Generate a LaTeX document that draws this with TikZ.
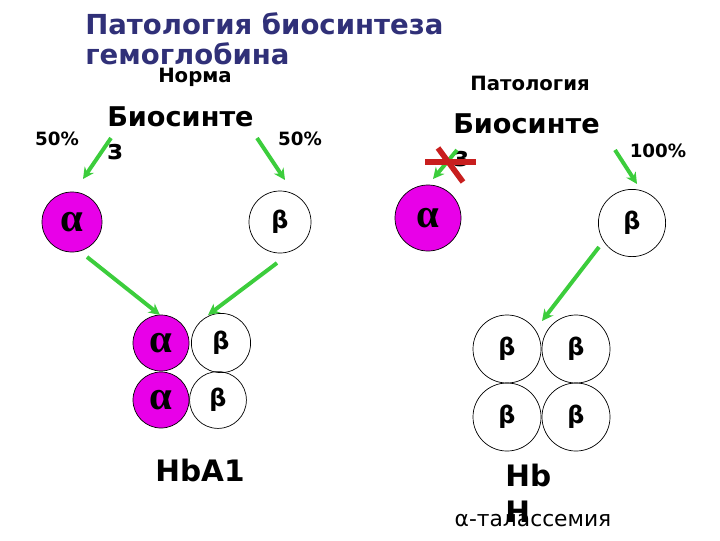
\documentclass[tikz,border=0pt]{standalone}
\usepackage{fontspec}
\setmainfont{DejaVu Sans}
\newfontfamily\greekserif{Liberation Serif}
\usetikzlibrary{arrows.meta,positioning}
\definecolor{titleblue}{RGB}{48,48,120}
\definecolor{chainpink}{RGB}{232,0,232}
\definecolor{arrowgreen}{RGB}{60,205,60}
\definecolor{crossred}{RGB}{200,30,30}
\begin{document}
\begin{tikzpicture}[x=0.025cm, y=-0.025cm,
  achain/.style={draw, line width=0.5pt, circle, fill=chainpink, inner sep=0pt, font=\greekserif\bfseries\fontsize{29}{29}\selectfont},
  bchain/.style={draw, line width=0.5pt, circle, inner sep=0pt, font=\bfseries\fontsize{17}{17}\selectfont},
  syn/.style={draw=arrowgreen, line width=2.8pt, -{Stealth[length=8pt, width=8pt]}},
  pct/.style={inner sep=0pt, font=\bfseries\fontsize{13}{13}\selectfont},
  head/.style={inner sep=0pt, font=\bfseries\fontsize{14}{14}\selectfont},
  word/.style={inner sep=0pt, align=left, font=\bfseries\fontsize{19.3}{23.5}\selectfont},
  hbname/.style={inner sep=0pt, align=left, font=\bfseries\fontsize{21}{25.5}\selectfont}]
\useasboundingbox (0,0) rectangle (720,540);
% title
\node[inner sep=0pt, align=left, anchor=north west, text=titleblue,
  font=\bfseries\fontsize{19.6}{21.5}\selectfont] (title) at (85,12) {Патология биосинтеза\\гемоглобина};
% norm
\node[head] (norm) at (195,77) {Норма};
\node[word, anchor=north west] (synL) at (107,106) {Биосинте\\з};
\node[pct] (pL1) at (57,139) {50\%};
\node[pct] (pL2) at (300,139) {50\%};
\node[achain, minimum size=1.5cm] (aL) at (72,222) {α};
\node[bchain, minimum size=1.55cm] (bL) at (280,222) {β};
\node[achain, minimum size=1.4cm] (a1) at (161,343) {α};
\node[achain, minimum size=1.4cm] (a2) at (161,400) {α};
\node[bchain, minimum size=1.48cm] (b1) at (221,343) {β};
\node[bchain, minimum size=1.42cm] (b2) at (218,400) {β};
\node[hbname] (hbA) at (200,470) {HbA1};
\coordinate (sL1) at (111,138);
\coordinate (sL2) at (257,138);
\coordinate (eL1) at (83,179);
\coordinate (eL2) at (285,180);
\coordinate (oL1) at (87,257);
\coordinate (oL2) at (277,263);
\coordinate (iL1) at (160,315);
\coordinate (iL2) at (208,315);
\draw[syn] (sL1) -- (eL1);
\draw[syn] (sL2) -- (eL2);
\draw[syn] (oL1) -- (iL1);
\draw[syn] (oL2) -- (iL2);
% pathology
\node[head] (path) at (530,83) {Патология};
\node[word, anchor=north west] (synR) at (453,113) {Биосинте\\з};
\node[pct] (pR) at (658,151) {100\%};
\node[achain, minimum size=1.65cm] (aR) at (428,218) {α};
\node[bchain, minimum size=1.68cm] (bR) at (632,223) {β};
\node[bchain, minimum size=1.7cm] (h1) at (507,349) {β};
\node[bchain, minimum size=1.7cm] (h2) at (576,349) {β};
\node[bchain, minimum size=1.7cm] (h3) at (507,417) {β};
\node[bchain, minimum size=1.7cm] (h4) at (576,417) {β};
\node[hbname, anchor=north west] (hbH) at (505,464) {Hb\\H};
\node[inner sep=0pt, font=\fontsize{15.5}{15.5}\selectfont] (thal) at (533,521) {α-талассемия};
\coordinate (sR1) at (457,150);
\coordinate (sR2) at (615,150);
\coordinate (eR1) at (433,179);
\coordinate (eR2) at (637,184);
\coordinate (oR) at (599,247);
\coordinate (iR) at (542,321);
\draw[syn] (sR1) -- (eR1);
\draw[syn] (sR2) -- (eR2);
\draw[syn] (oR) -- (iR);
% blocked synthesis
\coordinate (xa) at (425,162);
\coordinate (xb) at (476,162);
\coordinate (xc) at (438,148);
\coordinate (xd) at (463,182);
\draw[crossred, line width=3.6pt] (xa) -- (xb);
\draw[crossred, line width=4pt] (xc) -- (xd);
\end{tikzpicture}
\end{document}
